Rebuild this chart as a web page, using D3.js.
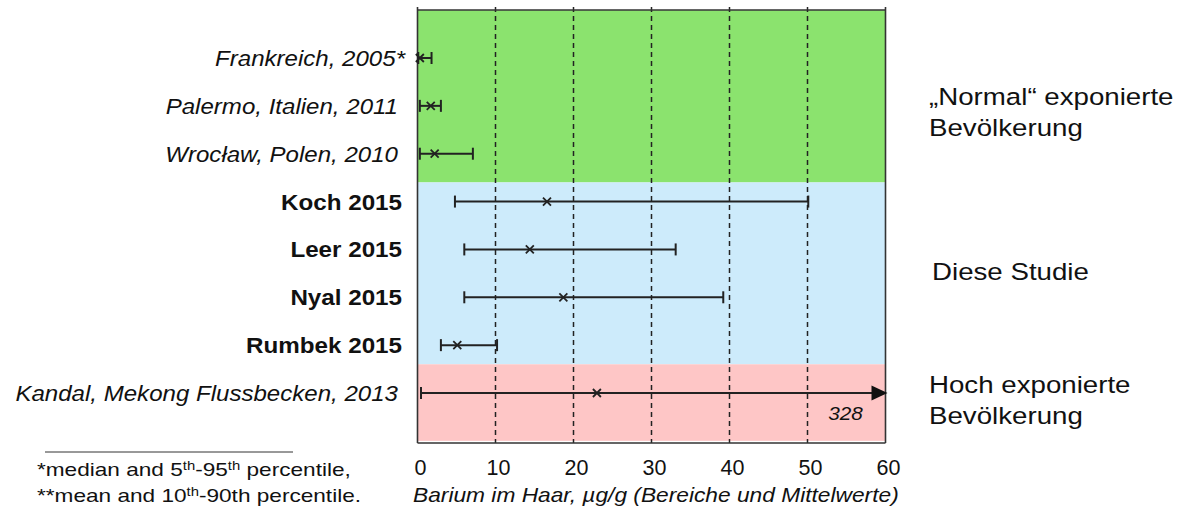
<!DOCTYPE html>
<html><head><meta charset="utf-8">
<script src="https://cdn.jsdelivr.net/npm/d3@7"></script>
<style>
html,body{margin:0;padding:0;background:#fff;}
svg{display:block;font-family:"Liberation Sans",Arial,sans-serif;}
</style></head>
<body><svg id="c" width="1182" height="513"></svg>
<script>
const categories = ["Frankreich, 2005*","Palermo, Italien, 2011","Wrocław, Polen, 2010","Koch 2015","Leer 2015","Nyal 2015","Rumbek 2015","Kandal, Mekong Flussbecken, 2013"];
const labelBold = [false,false,false,true,true,true,true,false];
const lowValues = [0.1,0.3,0.3,4.8,6.0,6.0,3.0,0.45];
const highValues = [1.8,3.0,7.1,50.1,33.1,39.2,10.2,328];
const centerValues = [0.3,1.7,2.2,16.6,14.4,18.7,5.1,23.0];
const xTicks = [0,10,20,30,40,50,60];
const regionNames = ["normal","studie","hoch"];
const regionStart = [-1,2.6,6.4];
const regionEnd = [2.6,6.4,8];
const regionColors = ["#8be36e","#cdebfb","#fec6c6"];
const regionLabels = [["„Normal“ exponierte","Bevölkerung"],["Diese Studie"],["Hoch exponierte","Bevölkerung"]];
const regionLabelY = [0.98,4.64,7.0];
const axisTitle = "Barium im Haar, µg/g (Bereiche und Mittelwerte)";
const footnotes = [["*median and 5","th","-95","th"," percentile,"],["**mean and 10","th","-90th percentile."]];
const overflowLabel = "328";

const svg = d3.select("#c");
const x = d3.scaleLinear().domain([0,60]).range([417.5,885.5]);
const rowY = d3.scaleLinear().domain([0,7]).range([58,393]);
const y = d => rowY(categories.indexOf(d));
const TOP = 10, BOTTOM = 443;

function stext(px, py, sx){
  return svg.append("text").attr("transform",`translate(${px},${py}) scale(${sx},1)`).attr("fill","#111");
}

// regions
svg.selectAll("rect.region").data(regionNames).join("rect")
  .attr("x", x(0)).attr("width", x(60)-x(0))
  .attr("y", (d,i)=>Math.max(TOP,rowY(regionStart[i])))
  .attr("height", (d,i)=>Math.min(BOTTOM,rowY(regionEnd[i])) - Math.max(TOP,rowY(regionStart[i])))
  .attr("fill",(d,i)=>regionColors[i]);

// grid lines
svg.selectAll("line.grid").data(xTicks.slice(1,-1)).join("line")
  .attr("x1",d=>x(d)).attr("x2",d=>x(d)).attr("y1",TOP-3).attr("y2",BOTTOM)
  .attr("stroke","#222").attr("stroke-width",1.5).attr("stroke-dasharray","5,4");

// frame
const fr = svg.append("g").attr("stroke","#333").attr("stroke-width",1.6).attr("fill","none");
fr.append("line").attr("x1",x(0)).attr("x2",x(60)).attr("y1",TOP).attr("y2",TOP);
fr.append("line").attr("x1",x(0)).attr("x2",x(60)).attr("y1",BOTTOM).attr("y2",BOTTOM);
fr.append("line").attr("x1",x(0)).attr("x2",x(0)).attr("y1",TOP-3).attr("y2",BOTTOM);
fr.append("line").attr("x1",x(60)).attr("x2",x(60)).attr("y1",TOP-3).attr("y2",BOTTOM);

// x tick labels
svg.selectAll("text.tick").data(xTicks).join("text")
  .attr("x",d=>x(d)+3).attr("y",475).attr("text-anchor","middle")
  .attr("font-size",21.5).attr("fill","#111").text(d=>d);

stext(413,502,1.11).attr("font-size",20.5).attr("font-style","italic").text(axisTitle);

// error bars
const eb = svg.append("g").attr("stroke","#222").attr("stroke-width",2).attr("fill","none");
categories.forEach((c,i)=>{
  const yy = y(c);
  const over = highValues[i] > 60;
  const xEnd = over ? x(60)+2 : x(highValues[i]);
  eb.append("line").attr("x1",x(lowValues[i])).attr("x2",over? xEnd-12 : xEnd).attr("y1",yy).attr("y2",yy);
  eb.append("line").attr("x1",x(lowValues[i])).attr("x2",x(lowValues[i])).attr("y1",yy-6).attr("y2",yy+6);
  if(!over){
    eb.append("line").attr("x1",xEnd).attr("x2",xEnd).attr("y1",yy-6).attr("y2",yy+6);
  } else {
    svg.append("path").attr("d",`M${xEnd-16},${yy-7.5}L${xEnd},${yy}L${xEnd-16},${yy+7.5}Z`).attr("fill","#111");
    stext(x(55)-1,yy+27,1.12).attr("text-anchor","middle")
      .attr("font-size",18.5).attr("font-style","italic").text(overflowLabel);
  }
  const cx = x(centerValues[i]);
  eb.append("path").attr("d",`M${cx-4},${yy-4}L${cx+4},${yy+4}M${cx-4},${yy+4}L${cx+4},${yy-4}`).attr("stroke-width",1.8);
});

// category labels
categories.forEach((c,i)=>{
  const bold = labelBold[i];
  stext(bold?402:(i===0?405:398), y(c)+8, bold?1.1:1.12)
    .attr("text-anchor","end").attr("font-size",bold?22:21.5)
    .attr("font-weight",bold?"bold":"normal")
    .attr("font-style",bold?"normal":"italic").text(c);
});

// region labels
regionNames.forEach((r,i)=>{
  regionLabels[i].forEach((l,j)=>{
    stext(i===1?932:929, rowY(regionLabelY[i]) + j*31, 1.13).attr("font-size",24.5).text(l);
  });
});

// footnotes
svg.append("line").attr("x1",45).attr("x2",293).attr("y1",452).attr("y2",452).attr("stroke","#333").attr("stroke-width",1);
footnotes.forEach((parts,i)=>{
  const t = stext(37,476+i*26,1.19).attr("font-size",19);
  parts.forEach(p=>{
    if(p==="th") t.append("tspan").attr("baseline-shift","super").attr("font-size",12.5).text(p);
    else t.append("tspan").text(p);
  });
});
</script></body></html>
